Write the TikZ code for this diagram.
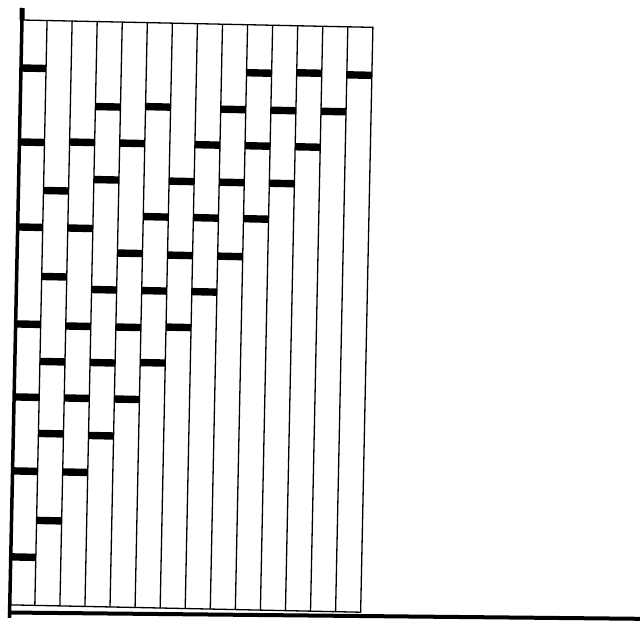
\documentclass[tikz,border=0pt]{standalone}
\begin{document}
\begin{tikzpicture}[x=1pt,y=1pt,
  gridline/.style={line width=1.3pt, black},
  brick/.style={fill=black},
  axisline/.style={line width=3.5pt, black}]
\useasboundingbox (0,0) rectangle (640,-626);
\fill[white] (0,0) rectangle (640,-626);
\begin{scope}[shift={(22,-20)}, rotate=-1.2]
  \def\w{25.07}
  \def\H{585}
  \foreach \k in {1,...,13} \draw[gridline] ({\k*\w},0) -- ({\k*\w},-\H);
  \draw[gridline] (0,0) -- ({14*\w},0) -- ({14*\w},-\H) -- (0,-\H);
  \foreach \k/\o in {
    0/48, 0/122, 0/207, 0/304, 0/377, 0/451, 0/537,
    1/170, 1/256, 1/341, 1/413, 1/500,
    2/121, 2/207, 2/305, 2/377, 2/451,
    3/85, 3/158, 3/268, 3/341, 3/414,
    4/121, 4/231, 4/305, 4/377,
    5/84, 5/194, 5/268, 5/340,
    6/158, 6/232, 6/304,
    7/121, 7/194, 7/268,
    8/85, 8/158, 8/232,
    9/48, 9/121, 9/194,
    10/85, 10/158,
    11/47, 11/121,
    12/85,
    13/48}
    \fill[brick] ({\k*\w},{-\o-3.7}) rectangle ({(\k+1)*\w},{-\o+3.7});
  \draw[axisline] (0,12) -- (0,-598);
  \draw[line width=5pt] (0,12) -- (0,0);
\end{scope}
\draw[line width=4pt] (8,-612.5) -- (640,-618.8);
\end{tikzpicture}
\end{document}
